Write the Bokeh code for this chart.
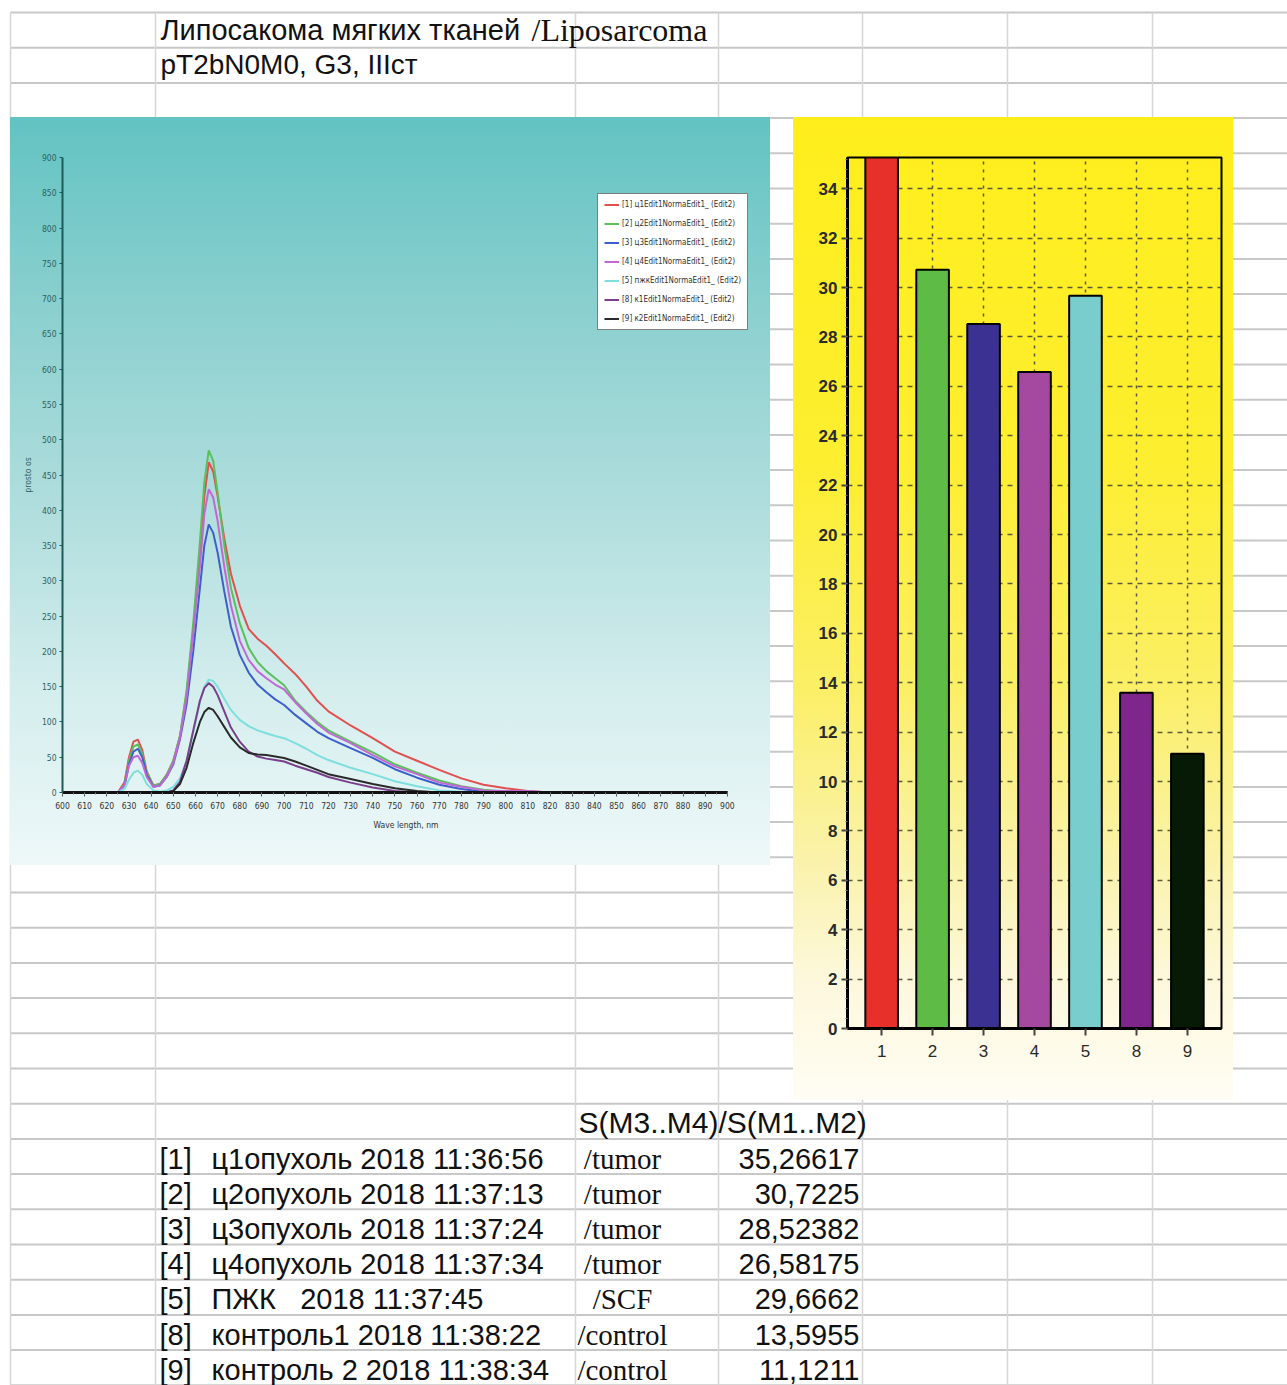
from bokeh.plotting import figure
from bokeh.models import (Range1d, FactorRange, ColumnDataSource, Legend, LegendItem,
                          SingleIntervalTicker, GridBox)
from bokeh.core.properties import value
from bokeh.embed import file_html
from bokeh.resources import INLINE

# ---------------- data ----------------
wavelength = [600, 625, 628, 630, 632, 634, 636, 638, 641, 644, 647, 650, 653, 656, 659, 662, 664, 666,
              668, 670, 673, 676, 680, 684, 688, 692, 696, 700, 705, 710, 715, 720, 730, 740, 750, 760,
              770, 780, 790, 800, 810, 820, 830, 900]
s1 = [0, 0, 15, 50, 72, 75, 60, 30, 10, 12, 25, 45, 80, 140, 230, 340, 420, 468,
      455, 420, 360, 310, 265, 232, 218, 208, 196, 183, 168, 150, 130, 115, 95, 77, 58, 45,
      32, 20, 11, 6, 2, 0, 0, 0]
s2 = [0, 0, 12, 45, 65, 68, 55, 28, 10, 12, 25, 45, 80, 145, 240, 355, 440, 485,
      470, 425, 350, 290, 240, 205, 185, 172, 162, 152, 130, 114, 100, 88, 72, 57, 40, 28,
      17, 9, 4, 1, 0, 0, 0, 0]
s3 = [0, 0, 10, 40, 58, 62, 50, 25, 8, 10, 22, 40, 75, 125, 200, 290, 350, 380,
      368, 340, 285, 235, 195, 170, 153, 142, 132, 124, 110, 98, 86, 77, 63, 49, 33, 21,
      11, 5, 1, 0, 0, 0, 0, 0]
s4 = [0, 0, 10, 38, 50, 52, 42, 22, 8, 10, 22, 42, 78, 135, 225, 320, 395, 430,
      418, 385, 320, 265, 215, 188, 172, 162, 153, 146, 128, 112, 97, 85, 70, 53, 37, 26,
      14, 8, 3, 2, 2, 0, 0, 0]
s5 = [0, 0, 5, 18, 28, 31, 25, 12, 3, 1, 3, 8, 20, 45, 85, 128, 150, 160,
      158, 150, 133, 117, 103, 94, 88, 84, 80, 77, 70, 62, 53, 46, 35, 26, 16, 9,
      3, 1, 0, 0, 0, 0, 0, 0]
s8 = [0, 0, 0, 0, 0, 0, 0, 0, 0, 0, 0, 3, 15, 45, 88, 130, 148, 155,
      150, 138, 115, 92, 72, 58, 51, 48, 46, 44, 38, 33, 28, 22, 14, 7, 2, 0,
      0, 0, 0, 0, 0, 0, 0, 0]
s9 = [0, 0, 0, 0, 0, 0, 0, 0, 0, 0, 0, 2, 12, 35, 70, 100, 114, 120,
      117, 108, 93, 78, 64, 56, 54, 53, 51, 49, 44, 38, 32, 26, 19, 12, 6, 2,
      0, 0, 0, 0, 0, 0, 0, 0]
spectra = [s1, s2, s3, s4, s5, s8, s9]
legend_labels = ["[1] ц1Edit1NormaEdit1_ (Edit2)", "[2] ц2Edit1NormaEdit1_ (Edit2)",
                 "[3] ц3Edit1NormaEdit1_ (Edit2)", "[4] ц4Edit1NormaEdit1_ (Edit2)",
                 "[5] пжкEdit1NormaEdit1_ (Edit2)", "[8] к1Edit1NormaEdit1_ (Edit2)",
                 "[9] к2Edit1NormaEdit1_ (Edit2)"]
line_colors = ["#e0504f", "#5cbf5c", "#3c5fcc", "#c266d6", "#7fdede", "#7a3f8a", "#2a2a2a"]

bar_cats = ["1", "2", "3", "4", "5", "8", "9"]
bar_values = [35.26617, 30.7225, 28.52382, 26.58175, 29.6662, 13.5955, 11.1211]
bar_colors = ["#e8302a", "#5dbb46", "#3b3193", "#a5489f", "#79cdcd", "#7e268c", "#061a06"]

table_index = ["[1]", "[2]", "[3]", "[4]", "[5]", "[8]", "[9]"]
table_names = ["ц1опухоль 2018 11:36:56", "ц2опухоль 2018 11:37:13", "ц3опухоль 2018 11:37:24",
               "ц4опухоль 2018 11:37:34", "ПЖК\u00a0\u00a0 2018 11:37:45",
               "контроль1 2018 11:38:22", "контроль 2 2018 11:38:34"]
table_groups = ["/tumor", "/tumor", "/tumor", "/tumor", "/SCF", "/control", "/control"]
table_header = "S(M3..M4)/S(M1..M2)"
title_ru = "Липосакома мягких тканей"
title_en = "/Liposarcoma"
subtitle = "pT2bN0M0, G3, IIIст"

SANS = "Liberation Sans"
SERIF = "Liberation Serif"
NARROW = "'DejaVu Sans Condensed', 'Liberation Sans Narrow', 'Liberation Sans', sans-serif"

# ---------------- spreadsheet background ----------------
W, H = 1287, 1385
bg = figure(width=W, height=H, x_range=Range1d(0, W), y_range=Range1d(H, 0),
            output_backend="svg", toolbar_location=None, min_border=0,
            x_axis_location=None, y_axis_location=None)
bg.grid.visible = False
bg.outline_line_color = None
bg.background_fill_color = "white"
bg.border_fill_color = "white"

ROW_H = 35.2
row_lines = [12 + ROW_H * k for k in range(40) if 12 + ROW_H * k < H]
col_lines = [10, 155, 575, 718, 862, 1007, 1152]
bg.segment(x0=10, y0=row_lines, x1=W, y1=row_lines, line_color="#c8c8c8", line_width=2)
bg.segment(x0=col_lines, y0=12, x1=col_lines, y1=H, line_color="#d6d6d6", line_width=1.5)

bg.text(x=[160], y=[29], text=[title_ru], text_font=value(SANS), text_font_size="29px",
        text_baseline="middle", text_color="#111111")
bg.text(x=[531], y=[29], text=[title_en], text_font=value(SERIF), text_font_size="32px",
        text_baseline="middle", text_color="#111111")
bg.text(x=[160], y=[64], text=[subtitle], text_font=value(SANS), text_font_size="28px",
        text_baseline="middle", text_color="#111111")

bg.text(x=[578], y=[1122], text=[table_header], text_font=value(SANS), text_font_size="30px",
        text_baseline="middle", text_color="#111111")
row_y = [1158 + ROW_H * i for i in range(len(table_index))]
value_strings = [str(v).replace(".", ",") for v in bar_values]
tsrc = ColumnDataSource(dict(y=row_y, idx=table_index, name=table_names, grp=table_groups,
                             val=value_strings))
bg.text(x=159, y="y", text="idx", source=tsrc, text_font=value(SANS), text_font_size="29px",
        text_baseline="middle", text_color="#111111")
bg.text(x=211, y="y", text="name", source=tsrc, text_font=value(SANS), text_font_size="29px",
        text_baseline="middle", text_color="#111111")
bg.text(x=622, y="y", text="grp", source=tsrc, text_font=value(SERIF), text_font_size="29px",
        text_baseline="middle", text_align="center", text_color="#111111")
bg.text(x=859, y="y", text="val", source=tsrc, text_font=value(SANS), text_font_size="29px",
        text_baseline="middle", text_align="right", text_color="#111111")

# ---------------- spectrum chart ----------------
spec = figure(width=760, height=748, x_range=Range1d(600, 910), y_range=Range1d(0, 900),
              output_backend="svg", toolbar_location=None,
              min_border_left=52, min_border_right=21, min_border_top=29, min_border_bottom=73)
spec.styles = {"background": "linear-gradient(to bottom, #62c3c2 0%, #8ed1d0 28%, #b4dfdf 55%, "
                             "#d6eeee 78%, #eef8f9 100%)"}
spec.background_fill_color = None
spec.border_fill_color = None
spec.outline_line_color = None
spec.grid.visible = False

items = []
for ser, col, lab in zip(spectra, line_colors, legend_labels):
    r = spec.line(wavelength, ser, line_color=col, line_width=2)
    items.append(LegendItem(label=lab, renderers=[r]))

leg = Legend(items=items, location=(535, 462), label_text_font=NARROW, label_text_font_size="8px",
             label_height=9, glyph_height=9, glyph_width=15, spacing=10, padding=6, margin=0,
             label_standoff=3, border_line_color="black", border_line_width=1.5,
             background_fill_color="white", background_fill_alpha=1, label_text_color="#333333")
spec.add_layout(leg)

xa = spec.xaxis[0]
xa.bounds = (600, 900)
xa.ticker = SingleIntervalTicker(interval=10, num_minor_ticks=2)
xa.axis_line_color = "#111111"
xa.axis_line_width = 3
xa.major_tick_out = 4
xa.major_tick_in = 0
xa.minor_tick_out = 2
xa.minor_tick_in = 0
xa.major_tick_line_color = "#555555"
xa.minor_tick_line_color = "#777777"
xa.major_label_text_font = NARROW
xa.major_label_text_font_size = "8.5px"
xa.major_label_text_color = "#333333"
xa.major_label_standoff = 5
xa.axis_label = "Wave length, nm"
xa.axis_label_text_font = NARROW
xa.axis_label_text_font_size = "8.5px"
xa.axis_label_text_font_style = "normal"
xa.axis_label_text_color = "#333333"
xa.axis_label_standoff = 8

ya = spec.yaxis[0]
ya.ticker = SingleIntervalTicker(interval=50, num_minor_ticks=0)
ya.axis_line_color = "#1d5a5a"
ya.axis_line_width = 2
ya.major_tick_out = 3
ya.major_tick_in = 0
ya.major_tick_line_color = "#1d5a5a"
ya.major_label_text_font = NARROW
ya.major_label_text_font_size = "8.5px"
ya.major_label_text_color = "#2f5f5f"
ya.major_label_standoff = 3
ya.axis_label = "prosto os"
ya.axis_label_text_font = NARROW
ya.axis_label_text_font_size = "8.5px"
ya.axis_label_text_font_style = "normal"
ya.axis_label_text_color = "#2f5f5f"
ya.axis_label_standoff = 6

# ---------------- bar chart ----------------
bar = figure(width=440, height=983,
             x_range=FactorRange(factors=bar_cats, range_padding=0.17, range_padding_units="absolute"),
             y_range=Range1d(0, max(bar_values)),
             output_backend="svg", toolbar_location=None,
             min_border_left=54, min_border_right=12, min_border_top=40, min_border_bottom=72)
bar.styles = {"background": "linear-gradient(to bottom, #ffee1c 0%, #fdee30 35%, #fbef66 58%, "
                            "#faf2a8 75%, #fdf8dc 88%, #fffdf4 100%)"}
bar.background_fill_color = None
bar.border_fill_color = None
bar.outline_line_color = "black"
bar.outline_line_width = 2

bsrc = ColumnDataSource(dict(cat=bar_cats, val=bar_values, color=bar_colors))
bar.vbar(x="cat", top="val", width=0.64, source=bsrc, fill_color="color",
         line_color="black", line_width=2)

bar.ygrid.ticker = SingleIntervalTicker(interval=2)
bar.ygrid.grid_line_color = "#5c5a3a"
bar.ygrid.grid_line_dash = "5 5"
bar.ygrid.grid_line_width = 1.5
bar.xgrid.grid_line_color = "#5c5a3a"
bar.xgrid.grid_line_dash = "3 5"
bar.xgrid.grid_line_width = 1.5

by = bar.yaxis[0]
by.ticker = SingleIntervalTicker(interval=2, num_minor_ticks=5)
by.axis_line_color = "black"
by.axis_line_width = 3
by.major_tick_out = 6
by.major_tick_in = 0
by.major_tick_line_width = 2
by.major_tick_line_color = "#444444"
by.minor_tick_out = 2
by.minor_tick_in = 0
by.minor_tick_line_color = "#666666"
by.major_label_text_font = SANS
by.major_label_text_font_style = "bold"
by.major_label_text_font_size = "17px"
by.major_label_text_color = "#2a2a2a"
by.major_label_standoff = 4

bx = bar.xaxis[0]
bx.axis_line_color = "black"
bx.axis_line_width = 3
bx.major_tick_out = 7
bx.major_tick_in = 0
bx.major_tick_line_width = 2
bx.major_tick_line_color = "#444444"
bx.major_label_text_font = SANS
bx.major_label_text_font_size = "17px"
bx.major_label_text_color = "#2a2a2a"
bx.major_label_standoff = 9

# ---------------- layout (overlapping grid cells) ----------------
grid = GridBox(children=[(bg, 0, 0, 4, 5), (spec, 1, 1, 1, 1), (bar, 1, 3, 2, 1)],
               rows=["117px", "748px", "235px", "285px"],
               cols=["10px", "760px", "23px", "440px", "54px"], spacing=0)

open("out.html", "w").write(file_html(grid, INLINE))
